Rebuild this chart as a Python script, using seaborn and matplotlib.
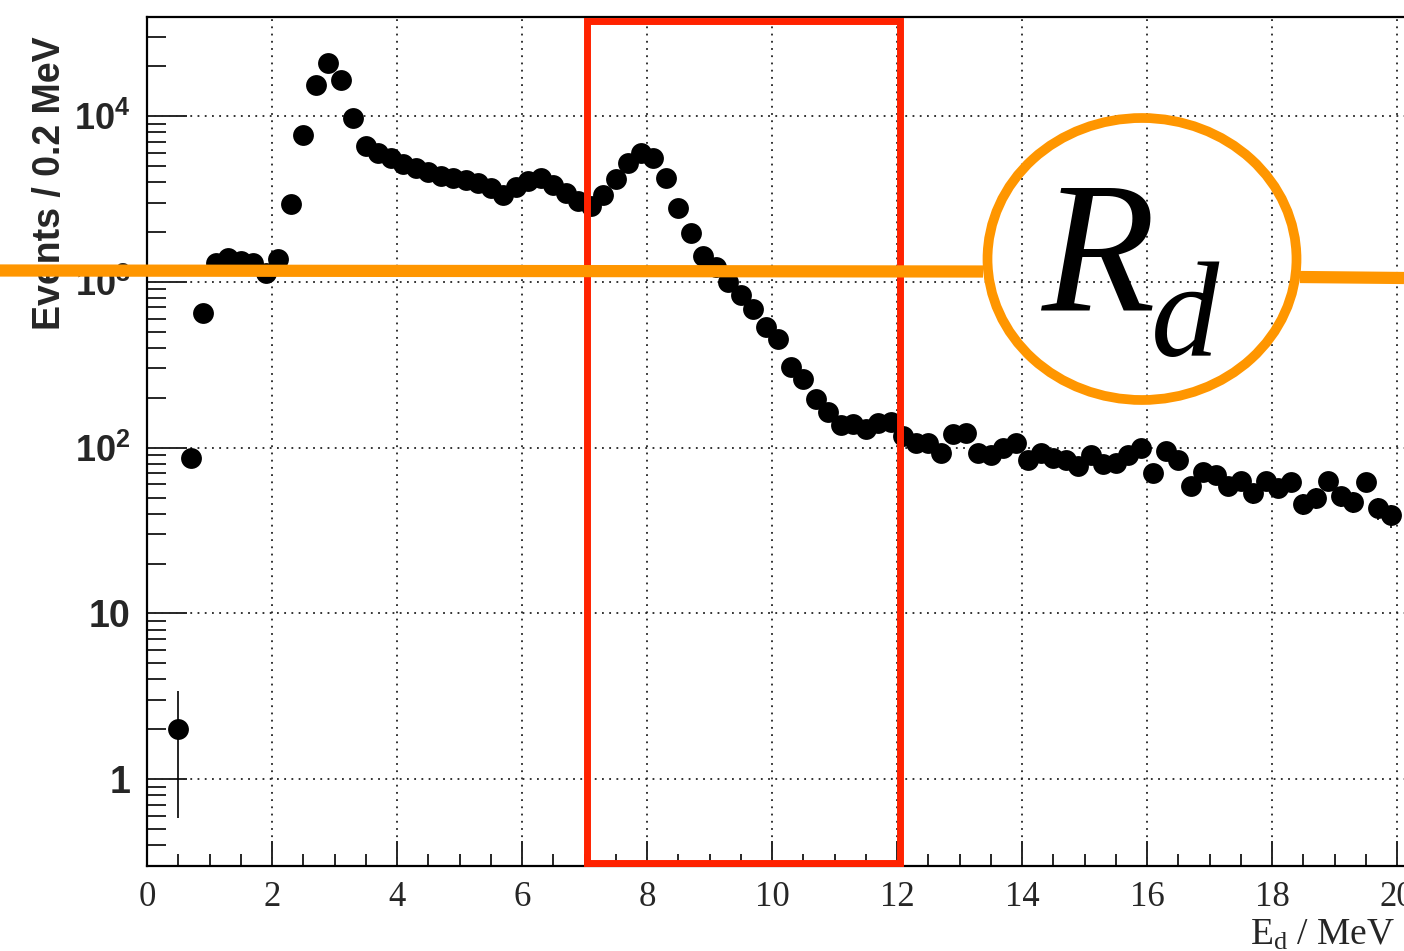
import numpy as np
import matplotlib
matplotlib.use("Agg")
import matplotlib.pyplot as plt
import seaborn as sns
from matplotlib.patches import Ellipse, Rectangle
from matplotlib.lines import Line2D
from matplotlib.ticker import LogLocator, MultipleLocator, NullFormatter

# bin centres (0.2 MeV bins) and counts
energy = [0.5, 0.7, 0.9, 1.1, 1.3, 1.5, 1.7, 1.9, 2.1, 2.3,
          2.5, 2.7, 2.9, 3.1, 3.3, 3.5, 3.7, 3.9, 4.1, 4.3,
          4.5, 4.7, 4.9, 5.1, 5.3, 5.5, 5.7, 5.9, 6.1, 6.3,
          6.5, 6.7, 6.9, 7.1, 7.3, 7.5, 7.7, 7.9, 8.1, 8.3,
          8.5, 8.7, 8.9, 9.1, 9.3, 9.5, 9.7, 9.9, 10.1, 10.3,
          10.5, 10.7, 10.9, 11.1, 11.3, 11.5, 11.7, 11.9, 12.1, 12.3,
          12.5, 12.7, 12.9, 13.1, 13.3, 13.5, 13.7, 13.9, 14.1, 14.3,
          14.5, 14.7, 14.9, 15.1, 15.3, 15.5, 15.7, 15.9, 16.1, 16.3,
          16.5, 16.7, 16.9, 17.1, 17.3, 17.5, 17.7, 17.9, 18.1, 18.3,
          18.5, 18.7, 18.9, 19.1, 19.3, 19.5, 19.7, 19.9]
counts = [2, 87, 650, 1300, 1400, 1340, 1290, 1130, 1380, 2950,
          7700, 15400, 20800, 16500, 9700, 6590, 5990, 5590, 5140, 4860,
          4600, 4350, 4230, 4110, 3950, 3680, 3340, 3740, 4060, 4230,
          3840, 3440, 3080, 2870, 3340, 4170, 5210, 5990, 5590, 4230,
          2790, 1970, 1435, 1230, 1000, 835, 688, 535, 454, 308,
          260, 197, 165, 136, 138, 130, 140, 143, 118, 107,
          107, 93, 121, 123, 93, 90, 99, 107, 84, 93,
          86, 84, 78, 90, 80, 81, 90, 99, 70, 96,
          84, 59, 71, 68, 59, 63, 53, 63, 57, 62,
          46, 50, 63, 51, 47, 62, 43, 39]

xticks = [0, 2, 4, 6, 8, 10, 12, 14, 16, 18, 20]
yticks = [1, 10, 100, 1000, 10000]
ytick_labels = ["1", "10", r"$\mathbf{10^{2}}$", r"$\mathbf{10^{3}}$", r"$\mathbf{10^{4}}$"]
window = (7.04, 12.05)   # red selection box, MeV

sns.set_style("ticks")
plt.rcParams.update({
    "font.family": ["Liberation Serif", "DejaVu Sans"],
    "mathtext.fontset": "custom",
    "mathtext.rm": "Liberation Serif",
    "mathtext.it": "Liberation Serif:italic",
    "mathtext.bf": "Liberation Sans:bold",
})

W, H = 1404, 951
fig = plt.figure(figsize=(W / 100, H / 100), dpi=100)
fig.patch.set_facecolor("white")
ax = fig.add_axes([147 / W, 1 - 866 / H, (W - 147) / W, (866 - 17) / H])
ax.set_facecolor("white")

err = np.sqrt(np.array(counts, dtype=float))
ax.errorbar(energy, counts, yerr=err, fmt="none", ecolor="black",
            elinewidth=1.2, capsize=0, zorder=3)
sns.scatterplot(x=energy, y=counts, ax=ax, color="black", s=15 ** 2,
                linewidth=0, zorder=4, legend=False)

ax.set_yscale("log")
ax.set_xlim(0, (W - 147) / 62.5)
ax.set_ylim(0.3, 39500)

ax.set_xticks(xticks)
ax.set_xticklabels([str(t) for t in xticks])
ax.xaxis.set_minor_locator(MultipleLocator(0.5))
ax.set_yticks(yticks)
ax.set_yticklabels(ytick_labels)
ax.yaxis.set_minor_locator(LogLocator(base=10, subs=np.arange(2, 10), numticks=20))
ax.yaxis.set_minor_formatter(NullFormatter())

ax.tick_params(axis="x", which="major", direction="in", length=18, width=1.4,
               labelsize=25, pad=11, top=False)
ax.tick_params(axis="x", which="minor", direction="in", length=8.6, width=1.4, top=False)
ax.tick_params(axis="y", which="major", direction="in", length=29, width=1.4,
               pad=12, right=False)
ax.tick_params(axis="y", which="minor", direction="in", length=14, width=1.4, right=False)

for lab in ax.get_xticklabels():
    lab.set_fontfamily("Liberation Serif")
for lab, t in zip(ax.get_yticklabels(), yticks):
    lab.set_fontfamily("Liberation Sans")
    lab.set_fontweight("bold")
    lab.set_fontsize(27 if t < 100 else 26)

ax.grid(True, which="major", linestyle=(0, (1, 3)), color="#222222", linewidth=1.3)
ax.set_axisbelow(True)
for side in ["left", "bottom", "top"]:
    ax.spines[side].set_linewidth(1.6)
    ax.spines[side].set_color("black")
ax.spines["right"].set_visible(False)

# red energy window
ax.add_patch(Rectangle((window[0], 0.004), window[1] - window[0], 0.991,
                       transform=ax.get_xaxis_transform(), fill=False,
                       edgecolor="#ff2200", linewidth=5, zorder=6, clip_on=False))

fig.text(50 / W, 1 - 183 / H, "Events / 0.2 MeV", rotation=90, ha="center", va="center",
         family="Liberation Sans", weight="bold", fontsize=27)
fig.text(1395 / W, 1 - 945 / H, r"E$_{\mathrm{d}}$ / MeV", ha="right", va="baseline",
         family="Liberation Serif", fontsize=27)

# orange annotation: line through a circled R_d
orange = "#ff9600"
fig.add_artist(Line2D([0, 983 / W], [1 - 270.5 / H, 1 - 271.5 / H], color=orange,
                      linewidth=8.8, solid_capstyle="butt", zorder=10))
fig.add_artist(Line2D([1300 / W, 1], [1 - 277 / H, 1 - 278 / H], color=orange,
                      linewidth=8.8, solid_capstyle="butt", zorder=10))
fig.add_artist(Ellipse((1142 / W, 1 - 259 / H), 309 / W, 282 / H, transform=fig.transFigure,
                       fill=False, edgecolor=orange, linewidth=7, zorder=11))
fig.text(1040 / W, 1 - 310 / H, r"$R$", ha="left", va="baseline", fontsize=134,
         color="black", zorder=12)
fig.text(1150 / W, 1 - 356 / H, r"$d$", ha="left", va="baseline", fontsize=98,
         color="black", zorder=12)

fig.savefig("out.png", dpi=100, facecolor="white")
